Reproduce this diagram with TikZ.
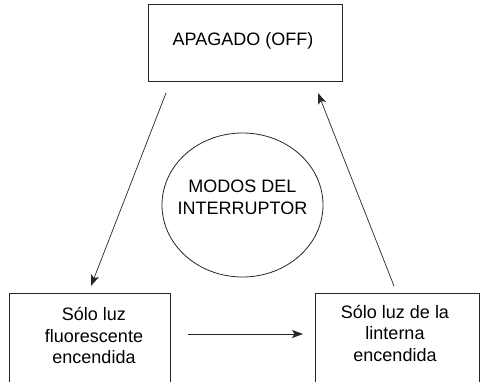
\documentclass[tikz,border=0pt]{standalone}
\usepackage{fontspec}
\setmainfont{Liberation Sans}
\usetikzlibrary{arrows.meta,shapes.geometric}
\begin{document}
\begin{tikzpicture}[x=1pt,y=-1pt,
  box/.style={draw=black!85, line width=0.8pt, inner sep=0pt},
  txt/.style={inner sep=0pt, align=center, font=\fontsize{18}{21.5}\selectfont},
  conn/.style={draw=black!85, line width=0.7pt, -{Stealth[length=11pt,width=8pt,inset=2.5pt]}}]
\useasboundingbox (0,0) rectangle (481,382);
\clip (0,0) rectangle (481,382);
% boxes
\node[box, anchor=north west, minimum width=194pt, minimum height=77pt] (off) at (148,4) {};
\node[txt, anchor=base] (offtxt) at (243,46) {APAGADO (OFF)};
\node[box, anchor=north west, minimum width=161pt, minimum height=130pt] (fl) at (9,293) {};
\node[txt, anchor=north] (fltxt) at (94,307.5) {Sólo luz\\fluorescente\\encendida};
\node[box, anchor=north west, minimum width=164pt, minimum height=130pt] (li) at (315,293) {};
\node[txt, anchor=north] (litxt) at (395,305) {Sólo luz de la\\linterna\\encendida};
% circle
\node[box, ellipse, minimum width=161pt, minimum height=144pt] (modes) at (242.5,205) {};
\node[txt, anchor=north] (modestxt) at (242.5,180) {MODOS DEL\\INTERRUPTOR};
% connector ends
\coordinate (a1) at (166,93);
\coordinate (a2) at (91,286);
\coordinate (b1) at (394,286);
\coordinate (b2) at (318,93);
\coordinate (c1) at (188,334);
\coordinate (c2) at (303,334);
\draw[conn] (a1) -- (a2);
\draw[conn] (b1) -- (b2);
\draw[conn] (c1) -- (c2);
\end{tikzpicture}
\end{document}
